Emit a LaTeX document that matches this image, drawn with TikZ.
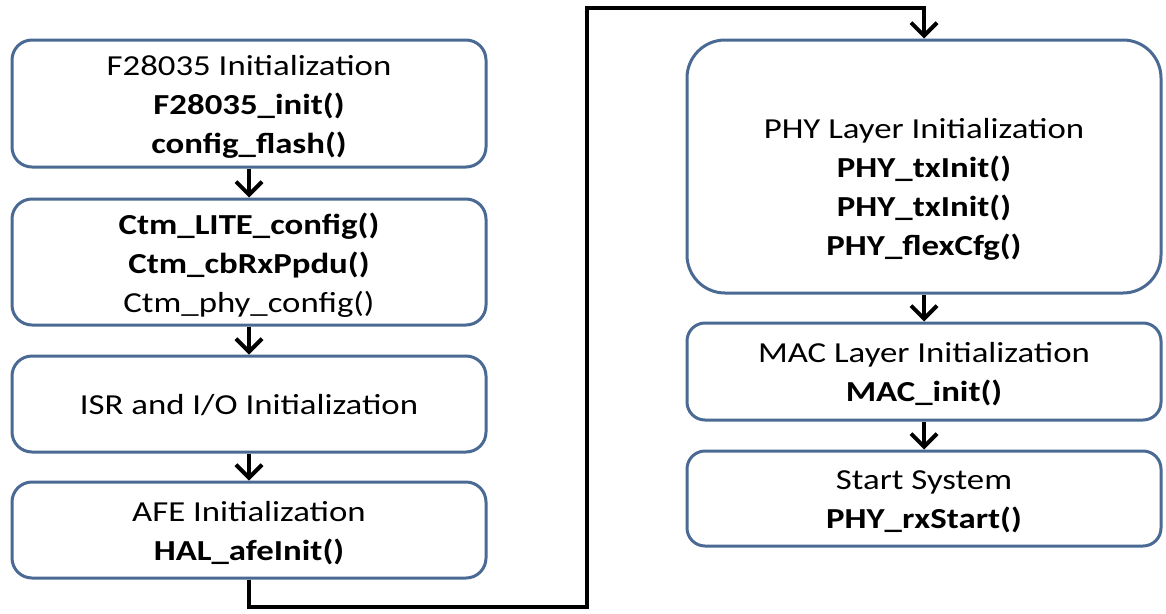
\documentclass[tikz,border=0pt]{standalone}
\usepackage{fontspec}
\setmainfont{Carlito}[FakeStretch=1.2]
\usetikzlibrary{arrows.meta}
\definecolor{boxblue}{HTML}{4A6A94}
\begin{document}
\begin{tikzpicture}[x=1pt,y=-1pt,
  box/.style={draw=boxblue, line width=3pt, rounded corners=20pt, fill=white,
    inner sep=0pt, minimum width=474pt},
  bigbox/.style={box, rounded corners=38pt},
  rbox/.style={box, rounded corners=18pt},
  txt/.style={inner sep=0pt, align=center, font=\fontsize{29}{39}\selectfont},
  arr/.style={line width=4pt, -{Straight Barb[length=13pt,width=26pt]}},
  conn/.style={line width=4pt, -{Straight Barb[length=13pt,width=26pt]}}]
\useasboundingbox (0,0) rectangle (1166,613);
% left column
\node[box, minimum height=127pt] (b1) at (249,103.5) {};
\node[txt] (b1t) at ([yshift=-3pt]b1.center)
  {F28035 Initialization\\ \textbf{F28035\_init()}\\ \textbf{config\_flash()}};
\node[box, minimum height=126pt] (b2) at (249,262) {};
\node[txt] (b2t) at ([yshift=-3pt]b2.center)
  {\textbf{Ctm\_LITE\_config()}\\ \textbf{Ctm\_cbRxPpdu()}\\ Ctm\_phy\_config()};
\node[box, minimum height=96pt] (b3) at (249,404) {};
\node[txt] (b3t) at ([yshift=-1pt]b3.center) {ISR and I/O Initialization};
\node[box, minimum height=96pt] (b4) at (249,530) {};
\node[txt] (b4t) at ([yshift=-3pt]b4.center)
  {AFE Initialization\\ \textbf{HAL\_afeInit()}};
% right column
\node[bigbox, minimum height=253pt] (r1) at (924,166.5) {};
\node[txt] (r1t) at ([yshift=-23pt]r1.center)
  {PHY Layer Initialization\\ \textbf{PHY\_txInit()}\\ \textbf{PHY\_txInit()}\\ \textbf{PHY\_flexCfg()}};
\node[rbox, minimum height=97pt] (r2) at (924,371.5) {};
\node[txt] (r2t) at ([yshift=-3pt]r2.center)
  {MAC Layer Initialization\\ \textbf{MAC\_init()}};
\node[rbox, minimum height=95pt] (r3) at (924,498.5) {};
\node[txt] (r3t) at ([yshift=-3pt]r3.center)
  {Start System\\ \textbf{PHY\_rxStart()}};
% arrows
\draw[arr] (b1.south) -- (b2.north);
\draw[arr] (b2.south) -- (b3.north);
\draw[arr] (b3.south) -- (b4.north);
\draw[arr] (r1.south) -- (r2.north);
\draw[arr] (r2.south) -- (r3.north);
\coordinate (k1) at (587,607);
\coordinate (k2) at (587,8);
\draw[conn] (b4.south) |- (k1) -- (k2) -| (r1.north);
\end{tikzpicture}
\end{document}
